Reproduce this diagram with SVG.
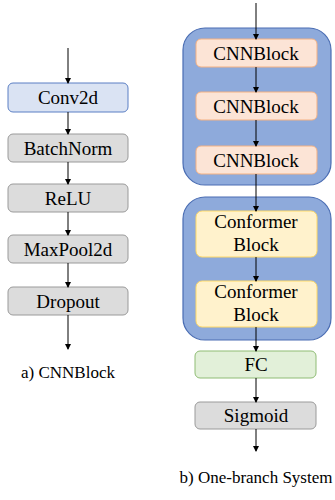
<svg xmlns="http://www.w3.org/2000/svg" width="335" height="500" viewBox="0 0 335 500" font-family="Liberation Serif, DejaVu Serif, serif">
<defs>
<marker id="ah" markerWidth="6" markerHeight="6" refX="5" refY="3" orient="auto" markerUnits="userSpaceOnUse">
<path d="M0,0 L6,3 L0,6 Z" fill="#000"/>
</marker>
<style>
text{font-family:'Liberation Serif','DejaVu Serif',serif;font-size:19px;fill:#000;text-anchor:middle}
.cap{font-size:17px}
.gray{fill:#dcdcdc;stroke:#9a9a9a;stroke-width:1}
.blue{fill:#dae3f3;stroke:#5b7fc4;stroke-width:1}
.outer{fill:#8eaadb;stroke:#4a6db3;stroke-width:1.2}
.cnn{fill:#fce4d6;stroke:#f4b183;stroke-width:1}
.conf{fill:#fff2cc;stroke:#ffd966;stroke-width:1}
.fc{fill:#e2f0d9;stroke:#8fbc74;stroke-width:1}
.c line{stroke:#000;stroke-width:1;marker-end:url(#ah)}
</style>
</defs>
<rect width="335" height="500" fill="#fff"/>
<g id="left">
<g id="conv2d"><rect class="blue" x="8" y="83" width="120" height="29" rx="5"/><text x="68" y="104">Conv2d</text></g>
<g id="batchnorm"><rect class="gray" x="8" y="134" width="120" height="28" rx="5"/><text x="68" y="155">BatchNorm</text></g>
<g id="relu"><rect class="gray" x="8" y="184" width="120" height="28" rx="5"/><text x="68" y="205">ReLU</text></g>
<g id="maxpool"><rect class="gray" x="8" y="235" width="120" height="28" rx="5"/><text x="68" y="256">MaxPool2d</text></g>
<g id="dropout"><rect class="gray" x="8" y="287" width="120" height="28" rx="5"/><text x="68" y="308">Dropout</text></g>
<text class="cap" x="68" y="378">a) CNNBlock</text>
</g>
<g id="right">
<g id="stage1"><rect class="outer" x="183" y="28" width="148" height="157" rx="22"/></g>
<g id="stage2"><rect class="outer" x="183" y="197" width="148" height="143" rx="22"/></g>
<g id="cnn1"><rect class="cnn" x="196" y="39" width="121" height="28" rx="5"/><text x="256" y="60">CNNBlock</text></g>
<g id="cnn2"><rect class="cnn" x="196" y="92" width="121" height="28" rx="5"/><text x="256" y="113">CNNBlock</text></g>
<g id="cnn3"><rect class="cnn" x="196" y="146" width="121" height="28" rx="5"/><text x="256" y="167">CNNBlock</text></g>
<g id="conf1"><rect class="conf" x="196" y="211" width="121" height="46" rx="6"/><text x="256" y="228">Conformer</text><text x="256" y="251">Block</text></g>
<g id="conf2"><rect class="conf" x="196" y="281" width="121" height="46" rx="6"/><text x="256" y="298">Conformer</text><text x="256" y="321">Block</text></g>
<g id="fc"><rect class="fc" x="195" y="351" width="121" height="27" rx="5"/><text x="256" y="371">FC</text></g>
<g id="sigmoid"><rect class="gray" x="195" y="402" width="121" height="27" rx="5"/><text x="256" y="422">Sigmoid</text></g>
<text class="cap" x="256" y="483">b) One-branch System</text>
</g>
<g id="connectors" class="c">
<line x1="68" y1="48" x2="68" y2="83"/>
<line x1="68" y1="112" x2="68" y2="134"/>
<line x1="68" y1="162" x2="68" y2="184"/>
<line x1="68" y1="212" x2="68" y2="235"/>
<line x1="68" y1="263" x2="68" y2="287"/>
<line x1="68" y1="315" x2="68" y2="349"/>
<line x1="256" y1="3" x2="256" y2="39"/>
<line x1="256" y1="67" x2="256" y2="92"/>
<line x1="256" y1="120" x2="256" y2="146"/>
<line x1="256" y1="174" x2="256" y2="211"/>
<line x1="256" y1="257" x2="256" y2="281"/>
<line x1="256" y1="327" x2="256" y2="351"/>
<line x1="256" y1="378" x2="256" y2="402"/>
<line x1="256" y1="429" x2="256" y2="451"/>
</g>
</svg>
